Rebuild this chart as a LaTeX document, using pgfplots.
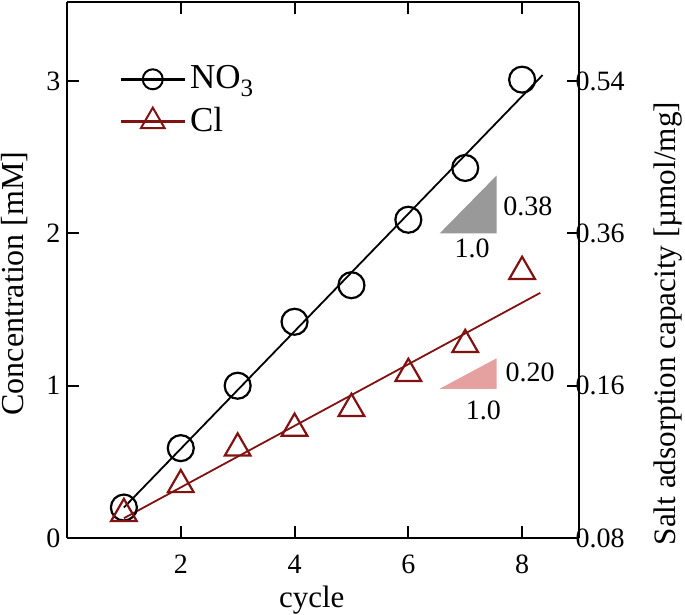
\documentclass[border=0pt]{standalone}
\usepackage{fontspec}
\setmainfont{Liberation Serif}
\usepackage{pgfplots}
\pgfplotsset{compat=1.18}

\definecolor{clred}{RGB}{128,18,18}
\definecolor{slopegray}{RGB}{153,153,153}
\definecolor{slopepink}{RGB}{229,160,160}

\begin{document}
\fontsize{14}{16}\selectfont
\begin{tikzpicture}
\pgfplotsset{
  every axis/.append style={
    scale only axis, width=256pt, height=268pt,
    xmin=0, xmax=9, ymin=0, ymax=3.52,
    axis line style={line width=1.1pt},
    tick style={line width=1pt, black},
    major tick length=6pt,
    tick align=inside,
    /pgf/number format/assume math mode=true,
    ticklabel style={font=\fontsize{14}{16}\selectfont},
  }
}
\begin{axis}[
    axis y line*=left,
    xtick={2,4,6,8},
    ytick={0,1,2,3},
    xtick pos=both,
    xticklabel pos=lower,
    xlabel={cycle},
    ylabel={Concentration [mM]},
    xlabel style={at={([yshift=-31pt]rel axis cs:0.478,0)}, anchor=center,
      font=\fontsize{15.5}{17}\selectfont},
    ylabel style={at={([xshift=-26pt]rel axis cs:0,0.475)}, anchor=center,
      font=\fontsize{16}{18}\selectfont},
    xticklabel style={yshift=-3.5pt},
    yticklabel style={xshift=1.5pt},
    legend style={draw=none, fill=none, at={(0.09,0.897)}, anchor=north west,
      font=\fontsize{17.5}{20}\selectfont, row sep=3pt},
    legend cell align=left,
    legend image code/.code={
      \draw[mark repeat=2, mark phase=2] plot coordinates {(0pt,0pt) (16pt,0pt) (32pt,0pt)};
    },
]
\coordinate (bl) at (rel axis cs:0,0);
\coordinate (tr) at (rel axis cs:1,1);
\addlegendimage{black, line width=1.3pt, mark=o, mark size=5pt, mark options={line width=1pt}}
\addlegendentry{NO\raisebox{-0.45ex}{\fontsize{12.5}{13}\selectfont 3}}
\addlegendimage{clred, line width=1.3pt, mark=triangle, mark size=6.8pt, mark options={line width=1pt}}
\addlegendentry{Cl}

% slope triangles
\addplot[fill=slopegray, draw=none, forget plot] coordinates {(6.55,2.0) (7.55,2.0) (7.55,2.38)} -- cycle;
\addplot[fill=slopepink, draw=none, forget plot] coordinates {(6.55,0.98) (7.55,0.98) (7.55,1.18)} -- cycle;
\node[anchor=west] at (axis cs:7.50,2.18) {0.38};
\node at (axis cs:7.12,1.9) {1.0};
\node[anchor=west] at (axis cs:7.54,1.085) {0.20};
\node at (axis cs:7.32,0.84) {1.0};

% fit lines
\addplot[black, line width=0.9pt, forget plot] coordinates {(1,0.20) (8.36,3.04)};
\addplot[clred, line width=0.9pt, forget plot] coordinates {(1,0.13) (8.32,1.61)};

% NO3
\addplot[only marks, black, mark=o, mark size=6.5pt, mark options={line width=1.1pt}, forget plot] coordinates {
  (1,0.20) (2,0.59) (3,1.00) (4,1.42) (5,1.66) (6,2.09) (7,2.43) (8,3.01)
};
% Cl
\addplot[only marks, clred, mark=triangle, mark size=7.4pt, mark options={line width=1.1pt}, forget plot] coordinates {
  (1,0.16) (2,0.35) (3,0.59) (4,0.72) (5,0.85) (6,1.08) (7,1.27) (8,1.75)
};
\end{axis}
\begin{axis}[
    axis y line*=right,
    axis x line=none,
    ytick={0,1,2,3},
    yticklabels={0.08,0.16,0.36,0.54},
    ylabel={Salt adsorption capacity [µmol/mg]},
    yticklabel style={xshift=-6.5pt},
    ylabel style={at={([xshift=44.5pt]rel axis cs:1,0.40)}, anchor=center,
      font=\fontsize{15.6}{18}\selectfont},
]
\end{axis}
\pgfresetboundingbox
\path ([shift={(-33.5pt,-38.5pt)}]bl) rectangle ([shift={(53pt,1pt)}]tr);
\end{tikzpicture}
\end{document}
